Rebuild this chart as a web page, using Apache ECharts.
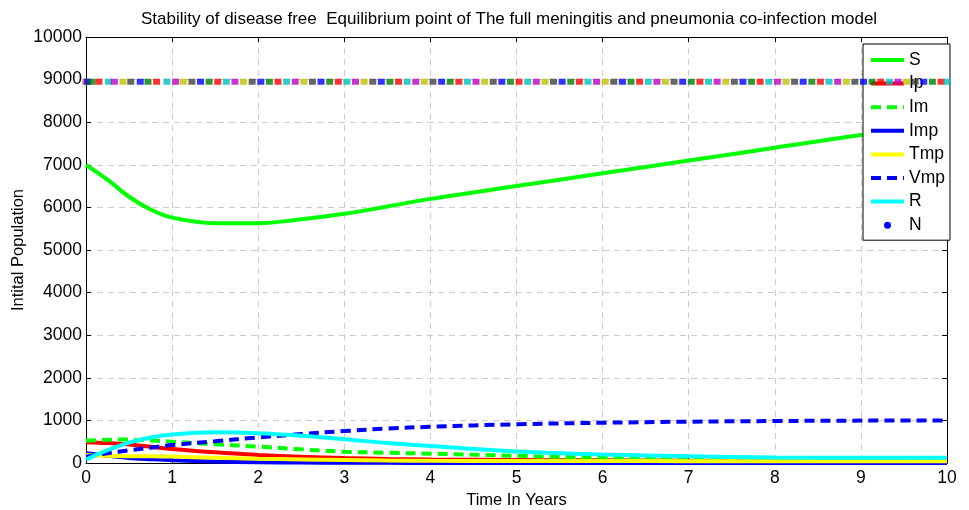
<!DOCTYPE html>
<html>
<head>
<meta charset="utf-8">
<script src="https://cdn.jsdelivr.net/npm/echarts@6/dist/echarts.min.js"></script>
<style>html,body{margin:0;padding:0;background:#fff;}#c{width:969px;height:510px;}</style>
</head>
<body>
<div id="c"></div>
<script>
// ---- data ----
var tGrid = [0, 0.25, 0.5, 0.75, 1, 1.5, 2, 2.5, 3, 3.5, 4, 5, 6, 7, 8, 9, 10];
var S   = [7000, 6650, 6250, 5950, 5760, 5630, 5630, 5720, 5850, 6020, 6200, 6500, 6800, 7100, 7400, 7700, 7950];
var Ip  = [490, 470, 435, 380, 330, 250, 190, 145, 115, 95, 82, 70, 62, 55, 50, 48, 45];
var Im  = [520, 545, 550, 530, 500, 440, 385, 320, 265, 240, 220, 170, 120, 85, 65, 50, 40];
var Imp = [230, 170, 120, 90, 65, 35, 20, 10, 5, 3, 2, 1, 0, 0, 0, 0, 0];
var Tmp = [190, 170, 160, 160, 150, 125, 100, 85, 72, 60, 52, 47, 45, 44, 43, 42, 42];
var Vmp = [150, 230, 300, 360, 420, 510, 600, 680, 750, 810, 850, 910, 945, 970, 985, 995, 1000];
var R   = [80, 300, 480, 600, 670, 720, 700, 640, 560, 470, 400, 270, 200, 160, 130, 125, 125];
var nTimes = [0, 0.01, 0.02, 0.07, 0.15, 0.26, 0.33, 0.43, 0.52, 0.63, 0.72, 0.82, 0.94, 1.04,
  1.13, 1.23, 1.33, 1.43, 1.53, 1.63, 1.73, 1.83, 1.93, 2.03, 2.13, 2.23, 2.33, 2.43, 2.53, 2.63,
  2.73, 2.83, 2.93, 3.03, 3.13, 3.23, 3.33, 3.43, 3.53, 3.63, 3.73, 3.83, 3.93, 4.03, 4.13, 4.23,
  4.33, 4.43, 4.53, 4.63, 4.73, 4.83, 4.93, 5.03, 5.13, 5.23, 5.33, 5.43, 5.53, 5.63, 5.73, 5.83,
  5.93, 6.03, 6.13, 6.23, 6.33, 6.43, 6.53, 6.63, 6.73, 6.83, 6.93, 7.03, 7.13, 7.23, 7.33, 7.43,
  7.53, 7.63, 7.73, 7.83, 7.93, 8.03, 8.13, 8.23, 8.33, 8.43, 8.53, 8.63, 8.73, 8.83, 8.93, 9.03,
  9.13, 9.23, 9.33, 9.43, 9.53, 9.63, 9.73, 9.83, 9.93, 10];
var nValue = 8950;
var seriesNames = ['S', 'Ip', 'Im', 'Imp', 'Tmp', 'Vmp', 'R', 'N'];
var xTicks = [0, 1, 2, 3, 4, 5, 6, 7, 8, 9, 10];
var yTicks = [0, 1000, 2000, 3000, 4000, 5000, 6000, 7000, 8000, 9000, 10000];
var yAxisTitle = 'Intital Population';
var xAxisTitle = 'Time In Years';

// ---- styles ----
var nColorsStart = ['#bf00bf', '#bfbf00', '#0000ff'];
var cycle = ['#0000ff', '#008000', '#ff0000', '#00bfbf', '#bf00bf', '#bfbf00', '#404040'];
function pairs(vals) { return tGrid.map(function (t, i) { return [t, vals[i]]; }); }
var nData = nTimes.map(function (t, i) {
  var col = i < 3 ? nColorsStart[i] : cycle[(i - 2) % 7];
  return { value: [t, nValue], itemStyle: { color: col } };
});
function lineSeries(name, vals, color, dashed, z) {
  return {
    name: name, type: 'line', data: pairs(vals), smooth: 0.35, showSymbol: false, symbol: 'none',
    xAxisIndex: 0, yAxisIndex: 0, z: z,
    itemStyle: { color: color },
    lineStyle: { color: color, width: 4, type: dashed ? [10, 6] : 'solid' }
  };
}
var font = 'Liberation Sans, Arial, Helvetica, sans-serif';
var chart = echarts.init(document.getElementById('c'));
chart.setOption({
  animation: false,
  backgroundColor: '#fff',
  title: {
    text: 'Stability of disease free  Equilibrium point of The full meningitis and pneumonia co-infection model',
    left: 136, top: 6,
    textStyle: { fontFamily: font, fontSize: 17, fontWeight: 'normal', color: '#000' }
  },
  graphic: [{
    type: 'text', x: 18, y: 250, rotation: Math.PI / 2,
    style: { text: yAxisTitle, fontFamily: font, fontSize: 16.5, fill: '#000', align: 'center', verticalAlign: 'middle' }
  }],
  grid: { left: 86, right: 22, top: 37, bottom: 47, containLabel: false, outerBoundsMode: 'none' },
  legend: {
    orient: 'vertical', left: 863, top: 44,
    backgroundColor: '#fff', borderColor: '#000', borderWidth: 1,
    padding: [7, 5, 6, 6],
    itemWidth: 33, itemHeight: 7, itemGap: 5.6,
    itemStyle: { opacity: 0 },
    lineStyle: { width: 4 },
    textStyle: { fontFamily: font, fontSize: 17.5, color: '#000', lineHeight: 14 },
    data: seriesNames.map(function (n) {
      return n === 'N' ? { name: 'N', icon: 'circle', itemStyle: { opacity: 1, color: '#0000ff' } } : { name: n };
    })
  },
  xAxis: [{
    type: 'value', min: 0, max: 10, interval: 1, position: 'bottom',
    name: xAxisTitle, nameLocation: 'middle', nameGap: 27,
    nameTextStyle: { fontFamily: font, fontSize: 16.5, color: '#000' },
    axisLine: { show: true, lineStyle: { color: '#000', width: 1 } },
    axisTick: { show: true, inside: true, length: 5, lineStyle: { color: '#000' } },
    axisLabel: { fontFamily: font, fontSize: 17.5, color: '#000', margin: 6 },
    splitLine: { show: true, lineStyle: { color: '#cccccc', type: [6, 5], width: 1 } }
  }, {
    type: 'value', min: 0, max: 10, interval: 1, position: 'top',
    axisLine: { show: true, onZero: false, lineStyle: { color: '#000', width: 1 } },
    axisTick: { show: true, inside: true, length: 5, lineStyle: { color: '#000' } },
    axisLabel: { show: false }, splitLine: { show: false }
  }],
  yAxis: [{
    type: 'value', min: 0, max: 10000, interval: 1000, position: 'left',
    axisLine: { show: true, lineStyle: { color: '#000', width: 1 } },
    axisTick: { show: true, inside: true, length: 5, lineStyle: { color: '#000' } },
    axisLabel: { fontFamily: font, fontSize: 17.5, color: '#000', margin: 4,
      formatter: function (v) { return String(v); } },
    splitLine: { show: true, lineStyle: { color: '#cccccc', type: [6, 5], width: 1 } }
  }, {
    type: 'value', min: 0, max: 10000, interval: 1000, position: 'right',
    axisLine: { show: true, onZero: false, lineStyle: { color: '#000', width: 1 } },
    axisTick: { show: true, inside: true, length: 5, lineStyle: { color: '#000' } },
    axisLabel: { show: false }, splitLine: { show: false }
  }],
  series: [
    lineSeries('S', S, '#00ff00', false, 2),
    lineSeries('Ip', Ip, '#ff0000', false, 3),
    lineSeries('Im', Im, '#00ff00', true, 4),
    lineSeries('Imp', Imp, '#0000ff', false, 5),
    lineSeries('Tmp', Tmp, '#ffff00', false, 6),
    lineSeries('Vmp', Vmp, '#0000ff', true, 7),
    lineSeries('R', R, '#00ffff', false, 8),
    {
      name: 'N', type: 'scatter', data: nData, symbol: 'rect', symbolSize: [7, 6], z: 9,
      itemStyle: { color: '#0000ff' }
    }
  ]
});
</script>
</body>
</html>
